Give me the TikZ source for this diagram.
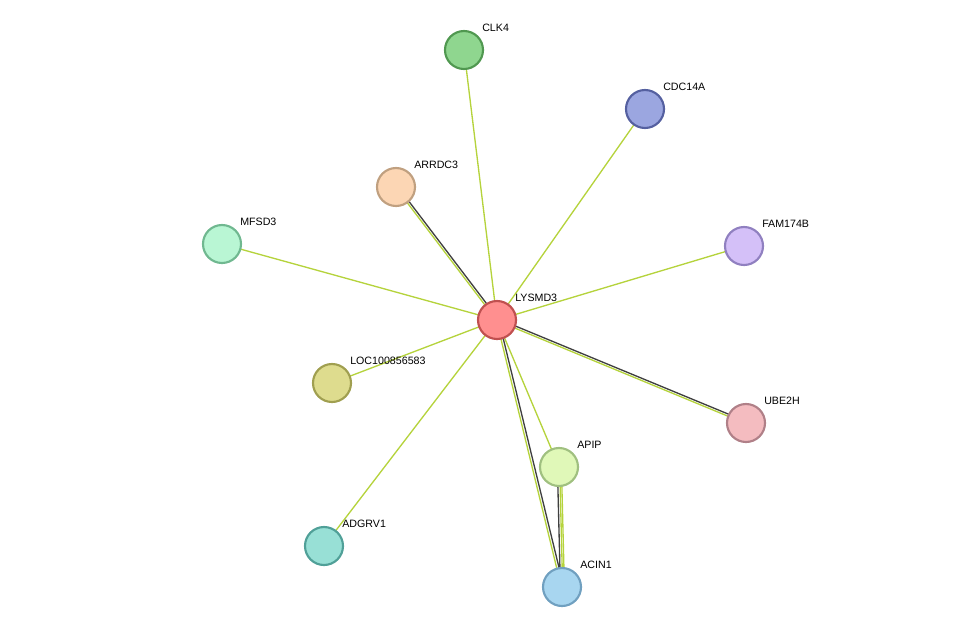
\documentclass[tikz,border=0pt]{standalone}
\usepackage{fontspec}
\setmainfont{Liberation Sans}
\definecolor{edgegreen}{HTML}{B5D33C}
\definecolor{edgedark}{HTML}{404040}
\tikzset{
  prot/.style={circle,minimum size=28.5pt,inner sep=0pt,line width=1.6pt},
  lbl/.style={anchor=west,inner sep=0pt,font=\fontsize{8}{9}\selectfont},
  link/.style={edgegreen,line width=1pt},
  linkdark/.style={edgedark,line width=1pt},
}
\begin{document}
\begin{tikzpicture}[x=0.75pt,y=-0.75pt]
    \useasboundingbox (0,0) rectangle (975,632);
    % links
    \coordinate (c) at (497,320);
    \draw[link] (c) -- (464,50);
    \draw[link] (c) -- (645,109);
    \draw[link] (c) -- (222,244);
    \draw[link] (c) -- (744,246);
    \draw[link] (c) -- (332,383);
    \draw[link] (c) -- (324,546);
    \draw[link] (c) -- (559,467);
    \draw[linkdark] ([xshift=1.5pt]c) -- ([xshift=1.5pt]396,187);
    \draw[link] ([xshift=-0.5pt]c) -- ([xshift=-0.5pt]396,187);
    \draw[linkdark] ([yshift=1.2pt]c) -- ([yshift=1.2pt]746,423);
    \draw[link] ([yshift=-0.5pt]c) -- ([yshift=-0.5pt]746,423);
    \draw[linkdark] ([xshift=1.3pt]c) -- ([xshift=1.3pt]562,587);
    \draw[link] ([xshift=-0.5pt]c) -- ([xshift=-0.5pt]562,587);
    \draw[linkdark] ([xshift=-1.2pt]559,467) -- ([xshift=-1.2pt]562,587);
    \draw[link] ([xshift=0.5pt]559,467) -- ([xshift=0.5pt]562,587);
    \draw[link] ([xshift=1.8pt]559,467) -- ([xshift=1.8pt]562,587);
    % proteins
    \node[prot,fill={rgb,255:red,255;green,143;blue,143},draw={rgb,255:red,192;green,80;blue,80}] (lysmd3) at (497,320) {};
    \node[prot,fill={rgb,255:red,143;green,214;blue,143},draw={rgb,255:red,80;green,152;blue,80}] (clk4) at (464,50) {};
    \node[prot,fill={rgb,255:red,155;green,166;blue,224},draw={rgb,255:red,85;green,96;blue,160}] (cdc14a) at (645,109) {};
    \node[prot,fill={rgb,255:red,252;green,214;blue,180},draw={rgb,255:red,192;green,160;blue,128}] (arrdc3) at (396,187) {};
    \node[prot,fill={rgb,255:red,185;green,246;blue,212},draw={rgb,255:red,112;green,184;blue,144}] (mfsd3) at (222,244) {};
    \node[prot,fill={rgb,255:red,212;green,192;blue,248},draw={rgb,255:red,144;green,128;blue,192}] (fam174b) at (744,246) {};
    \node[prot,fill={rgb,255:red,222;green,220;blue,142},draw={rgb,255:red,160;green,159;blue,80}] (loc) at (332,383) {};
    \node[prot,fill={rgb,255:red,244;green,188;blue,192},draw={rgb,255:red,176;green,128;blue,136}] (ube2h) at (746,423) {};
    \node[prot,fill={rgb,255:red,224;green,248;blue,184},draw={rgb,255:red,160;green,192;blue,128}] (apip) at (559,467) {};
    \node[prot,fill={rgb,255:red,152;green,224;blue,214},draw={rgb,255:red,80;green,160;blue,152}] (adgrv1) at (324,546) {};
    \node[prot,fill={rgb,255:red,168;green,214;blue,240},draw={rgb,255:red,112;green,160;blue,192}] (acin1) at (562,587) {};
    % labels
    \foreach \n/\t in {lysmd3/LYSMD3,clk4/CLK4,cdc14a/CDC14A,arrdc3/ARRDC3,mfsd3/MFSD3,
      fam174b/FAM174B,loc/LOC100856583,ube2h/UBE2H,apip/APIP,adgrv1/ADGRV1,acin1/ACIN1}
      \node[lbl] at ([shift={(18,-22)}]\n) {\t};
\end{tikzpicture}
\end{document}
